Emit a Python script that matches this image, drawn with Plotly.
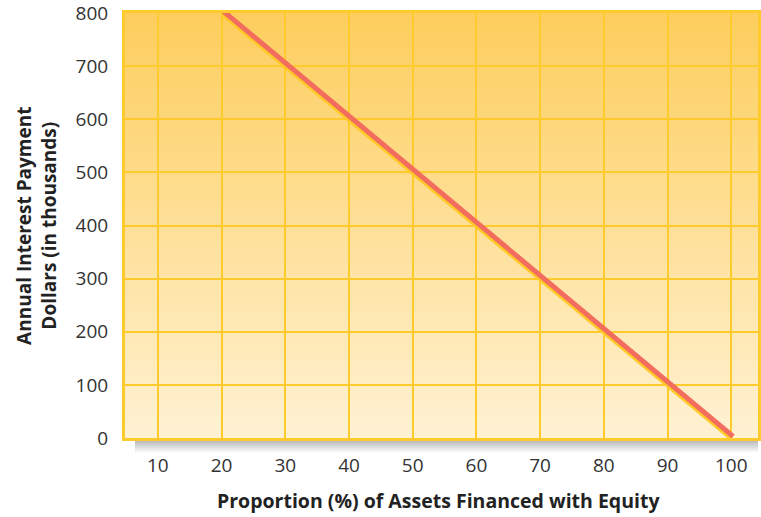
import plotly.graph_objects as go

# data
equity_pct = [20, 100]
interest_k = [800, 0]
x_ticks = [10, 20, 30, 40, 50, 60, 70, 80, 90, 100]
y_ticks = [0, 100, 200, 300, 400, 500, 600, 700, 800]

X_RANGE = [4.84, 104.2]
Y_RANGE = [0, 800]
GRID = "#FFCA2C"
FONT = "Open Sans, Noto Sans, sans-serif"


def mix(c1, c2, t):
    return "rgb(%d,%d,%d)" % tuple(round(a + (b - a) * t) for a, b in zip(c1, c2))


top_col = (253, 206, 94)
bot_col = (255, 241, 210)

shapes = []
# vertical gradient behind the plot
n = 60
for i in range(n):
    shapes.append(dict(
        type="rect", xref="x domain", yref="y domain", layer="below",
        x0=0, x1=1, y0=1 - (i + 1) / n, y1=1 - i / n + 0.002,
        fillcolor=mix(top_col, bot_col, i / (n - 1)), line_width=0,
    ))
# soft grey shadow under the bottom edge
for k in range(6):
    shapes.append(dict(
        type="rect", xref="paper", yref="paper", layer="below",
        x0=10 / 636, x1=1, y0=-(4 + 2 * k) / 425, y1=-(2 + 2 * k) / 425,
        fillcolor="rgba(130,130,130,%.2f)" % (0.55 * (1 - k / 6)), line_width=0,
    ))

fig = go.Figure()
# yellow underline on the main axes, red line on a slightly shifted overlay
fig.add_trace(go.Scatter(
    x=equity_pct, y=interest_k, mode="lines",
    line=dict(color="#FFC928", width=5), hoverinfo="skip",
))
fig.add_trace(go.Scatter(
    x=equity_pct, y=interest_k, mode="lines", yaxis="y2", xaxis="x2",
    line=dict(color="#F26D5E", width=5),
))

fig.update_layout(
    width=761, height=517,
    margin=dict(l=125, r=0, t=13, b=79),
    paper_bgcolor="white",
    plot_bgcolor="rgba(0,0,0,0)",
    showlegend=False,
    shapes=shapes,
    font=dict(family=FONT, color="#222"),
    xaxis=dict(
        range=X_RANGE, tickvals=x_ticks, ticks="", showgrid=True,
        gridcolor=GRID, gridwidth=2, zeroline=False,
        showline=True, linecolor=GRID, linewidth=3, mirror=True,
        tickfont=dict(size=19, color="#333"), ticklabelstandoff=8,
        ticklabeloverflow="allow",
    ),
    yaxis=dict(
        range=Y_RANGE, tickvals=y_ticks, ticks="", showgrid=True,
        gridcolor=GRID, gridwidth=2, zeroline=False,
        showline=True, linecolor=GRID, linewidth=3, mirror=True,
        tickfont=dict(size=19, color="#333"), ticklabelstandoff=10,
        ticklabeloverflow="allow",
    ),
    xaxis2=dict(range=[X_RANGE[0] - 0.3, X_RANGE[1] - 0.3], overlaying="x",
                visible=False),
    yaxis2=dict(range=[Y_RANGE[0] - 3, Y_RANGE[1] - 3], overlaying="y",
                visible=False),
    annotations=[
        dict(text="<b>Proportion (%) of Assets Financed with Equity</b>",
             xref="paper", yref="paper", x=0.496, y=-0.146,
             xanchor="center", yanchor="middle", showarrow=False,
             font=dict(size=19.5, color="#222")),
        dict(text="<b>Annual Interest Payment<br>Dollars (in thousands)</b>",
             xref="paper", yref="paper", x=-0.14, y=0.5, textangle=-90,
             xanchor="center", yanchor="middle", showarrow=False,
             font=dict(size=19, color="#222")),
    ],
)

fig.write_html(
    "out.html",
    config={"displayModeBar": False},
    post_script="document.body.style.margin='0';document.body.style.overflow='hidden';",
)
